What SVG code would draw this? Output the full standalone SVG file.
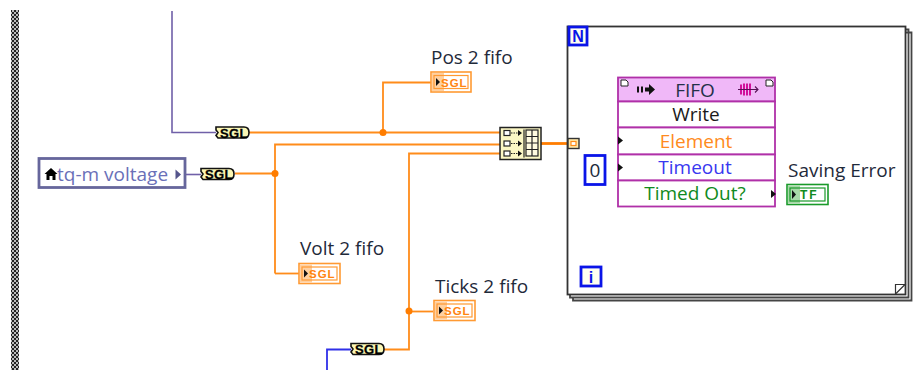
<svg xmlns="http://www.w3.org/2000/svg" width="923" height="370" viewBox="0 0 923 370">
<style>
text{font-family:"Open Sans","Noto Sans","Liberation Sans",sans-serif}
.lbl{font-size:19px;fill:#1f2a3a}
.w{fill:none;stroke:#ff8c1a;stroke-width:1.8}
.conv text{font-family:"Liberation Sans",sans-serif;font-size:13px;font-weight:bold;fill:#000;stroke:#000;stroke-width:.3;letter-spacing:.3px}
.conv path{fill:#fbf7b4;stroke:#111;stroke-width:1.6}
.ind rect.o{fill:#fff;stroke:#ff9a33;stroke-width:1.6}
.ind rect.s{fill:#ffd0a0}
.ind rect.i{fill:none;stroke:#ff9a33;stroke-width:1.2}
.ind text{font-family:"Liberation Sans",sans-serif;font-size:11.500px;font-weight:bold;fill:#ff8410;letter-spacing:1px}
.row{fill:#fff;stroke:#b030a8;stroke-width:1.800}
.rt{font-size:19px;text-anchor:middle}
.blue{fill:#fffff0;stroke:#0a14e8;stroke-width:2.800}
.tri{fill:#111}
.dot{fill:#ff7d00}
</style>
<rect width="923" height="370" fill="#fff"/>
<defs><pattern id="chk" width="4" height="4" patternUnits="userSpaceOnUse"><rect width="4" height="4" fill="#bbb"/><rect width="2" height="2" fill="#222"/><rect x="2" y="2" width="2" height="2" fill="#222"/></pattern></defs>
<rect id="sequence-frame" x="11" y="10" width="8" height="360" fill="url(#chk)"/>
<g id="connectors">
<path d="M172 11V132.500H216" fill="none" stroke="#7060a8" stroke-width="1.600"/>
<path d="M185 174.500H201" fill="none" stroke="#7060a8" stroke-width="1.600"/>
<path d="M327 370V349.500H351" fill="none" stroke="#3030e8" stroke-width="1.800"/>
<path class="w" d="M249 132.500H500"/>
<path class="w" d="M383 132.500V82.500H431"/>
<path class="w" d="M235 173.500H275"/>
<path class="w" d="M275 273.500V144.500H500"/>
<path class="w" d="M275 273.500H299"/>
<path class="w" d="M383 349.500H409V153.500H500"/>
<path class="w" d="M409 311.500H433"/>
<path d="M541 143.500H568" fill="none" stroke="#ff7d00" stroke-width="2.800"/>
<path d="M579 143.500H618" fill="none" stroke="#ff8c1a" stroke-width="1.400"/>
<path d="M605 170.500H618" fill="none" stroke="#4040e8" stroke-width="1.600"/>
<path d="M776 194.500H788" fill="none" stroke="#1a9a1a" stroke-width="1" stroke-dasharray="1.500 1.500"/>
<circle class="dot" cx="383" cy="132.500" r="3.500"/>
<circle class="dot" cx="275" cy="173.500" r="3.500"/>
<circle class="dot" cx="409" cy="311" r="3.500"/>
</g>
<g id="for-loop" stroke="#444" stroke-width="1.800">
<path d="M573 297V300.500H911.500V32.500H906" fill="none"/>
<path d="M570 295V297.500H908.500V29.500H906" fill="none"/>
<rect x="567.500" y="26.500" width="338" height="268" fill="#fff" stroke="#333"/>
<path d="M895.500 294V284.500H905L895.500 294" fill="#fff" stroke="#333" stroke-width="1.200"/>
</g>
<g id="n-terminal"><rect class="blue" x="569" y="27" width="18" height="18"/><text x="578" y="42" font-size="16" font-weight="bold" fill="#0a14e8" text-anchor="middle" style="font-family:'Liberation Sans',sans-serif">N</text></g>
<g id="i-terminal"><rect class="blue" x="581" y="267" width="20" height="19"/><text x="591" y="283" font-size="16" font-weight="bold" fill="#0a14e8" text-anchor="middle" style="font-family:'Liberation Sans',sans-serif">i</text></g>
<g id="tunnel"><rect x="568" y="138.500" width="11" height="10" fill="#ffe8a8" stroke="#333" stroke-width="1.400"/><rect x="571" y="141.500" width="5" height="4" fill="#fff" stroke="#ff8c1a" stroke-width="1.200"/></g>
<g id="control-tq-m-voltage">
<rect x="39" y="158.500" width="146" height="29" fill="#fff" stroke="#66669c" stroke-width="2.800"/>
<path d="M44.500 174L51 168L57.500 174H55.500V180H52.500V176H49.500V180H46.500V174Z" fill="#000"/>
<text x="57" y="181" font-size="19" fill="#6a70b8">tq-m voltage</text>
<path d="M175.500 169.500L181 174.500L175.500 179.500Z" fill="#55558c"/>
</g>
<g id="conv-1" class="conv"><path d="M216 127H244Q249 127 249 132.500Q249 138 244 138H218L216 135.500L218 132.500L216 130Z"/><text x="220" y="137.500">SGL</text></g>
<g id="conv-2" class="conv"><path d="M201 168.500H229Q234 168.500 234 174Q234 179.500 229 179.500H203L201 177L203 174L201 171.500Z"/><text x="205" y="179">SGL</text></g>
<g id="conv-3" class="conv"><path d="M351 343.500H379Q384 343.500 384 349Q384 354.500 379 354.500H353L351 352L353 349L351 346.500Z"/><text x="355" y="354">SGL</text></g>
<g id="build-array">
<rect x="500" y="127.500" width="41" height="32" fill="#fbf7c4" stroke="#222" stroke-width="1.500"/>
<g fill="#fff" stroke="#222" stroke-width="1.200"><rect x="504" y="130.500" width="6" height="5"/><rect x="504" y="141" width="6" height="5"/><rect x="504" y="151" width="6" height="5"/></g>
<path d="M511 133H520M511 143.500H520M511 153.500H520" stroke="#222" stroke-width="1" stroke-dasharray="1.500 1"/>
<path d="M518 130L522 133L518 136ZM518 140.500L522 143.500L518 146.500ZM518 150.500L522 153.500L518 156.500Z" fill="#111"/>
<path d="M524 129.500V157.500" stroke="#222" stroke-width="1.200"/>
<rect x="526" y="130" width="12" height="26" fill="#fffbe0" stroke="#222" stroke-width="1.200"/>
<path d="M532 130V156M526 136.500H538M526 143H538M526 149.500H538" stroke="#222" stroke-width="1.200"/>
</g>
<g id="ind-pos" class="ind"><rect class="o" x="431" y="72" width="40" height="20"/><rect class="s" x="432" y="73" width="12" height="18"/><rect class="i" x="434" y="75.500" width="34" height="13"/><path class="tri" d="M436 78L440 82L436 86Z"/><text x="441" y="86.500">SGL</text></g>
<text id="lbl-pos" class="lbl" x="431" y="64">Pos 2 fifo</text>
<g id="ind-volt" class="ind"><rect class="o" x="299" y="263.500" width="41" height="20"/><rect class="s" x="300" y="264.500" width="12" height="18"/><rect class="i" x="302" y="267" width="35" height="13"/><path class="tri" d="M304 269.500L308 273.500L304 277.500Z"/><text x="309" y="278">SGL</text></g>
<text id="lbl-volt" class="lbl" x="300" y="255">Volt 2 fifo</text>
<g id="ind-ticks" class="ind"><rect class="o" x="434" y="300.500" width="41" height="20"/><rect class="s" x="435" y="301.500" width="12" height="18"/><rect class="i" x="437" y="304" width="35" height="13"/><path class="tri" d="M439 306.500L443 310.500L439 314.500Z"/><text x="444" y="315">SGL</text></g>
<text id="lbl-ticks" class="lbl" x="435" y="293">Ticks 2 fifo</text>
<g id="fifo-node">
<rect x="618" y="77.500" width="157" height="24" fill="#f0b8f8" stroke="#b030a8" stroke-width="1.800"/>
<rect class="row" x="618" y="101.500" width="157" height="26"/>
<rect class="row" x="618" y="127.500" width="157" height="27"/>
<rect class="row" x="618" y="154.500" width="157" height="26"/>
<rect class="row" x="618" y="180.500" width="157" height="26"/>
<path d="M621 80H626L628 82V86H621Z" fill="#fff" stroke="#222" stroke-width="1"/>
<path d="M766 80H771L773 82V86H766Z" fill="#fff" stroke="#222" stroke-width="1"/>
<path d="M637 86.500H639V92.500H637ZM641 86.500H643V92.500H641ZM645 87.500H649V84L655 89.500L649 95V91.500H645Z" fill="#111"/>
<path d="M741 84.500V94.500M744 83.500V95.500M747 83.500V95.500M750 83.500V95.500" stroke="#d0109a" stroke-width="2"/>
<path d="M738 89.500H758M755 86.500L758 89.500L755 92.500" fill="none" stroke="#551155" stroke-width="1.100"/>
<text class="rt" x="695" y="97" fill="#24304a">FIFO</text>
<text class="rt" x="696" y="121" fill="#1a1a1a">Write</text>
<text class="rt" x="696" y="148" fill="#ff8a20">Element</text>
<text class="rt" x="695" y="174" fill="#3838f0">Timeout</text>
<text class="rt" x="695" y="200" fill="#108a20">Timed Out?</text>
<path class="tri" d="M618 136.500L623 140.500L618 144.500ZM618 163.500L623 167.500L618 171.500ZM771 190L776 194L771 198Z"/>
</g>
<g id="constant-0"><rect x="585" y="155.500" width="20" height="29" fill="#fff" stroke="#0a14e8" stroke-width="2.800"/><text x="595" y="177" font-size="19" fill="#1a2a3a" text-anchor="middle">0</text></g>
<g id="ind-error"><rect x="787" y="184.500" width="41" height="20" fill="#fff" stroke="#1a9a2a" stroke-width="1.600"/><rect x="788" y="185.500" width="12" height="18" fill="#a8d8a8"/><rect x="790" y="188" width="35" height="13" fill="none" stroke="#1a9a2a" stroke-width="1.200"/><path class="tri" d="M792 190L796 194.500L792 199Z"/><text x="800" y="199" font-size="12" font-weight="bold" fill="#108a20" letter-spacing="2" style="font-family:'Liberation Sans',sans-serif">TF</text></g>
<text id="lbl-error" class="lbl" x="788" y="177">Saving Error</text>
</svg>
